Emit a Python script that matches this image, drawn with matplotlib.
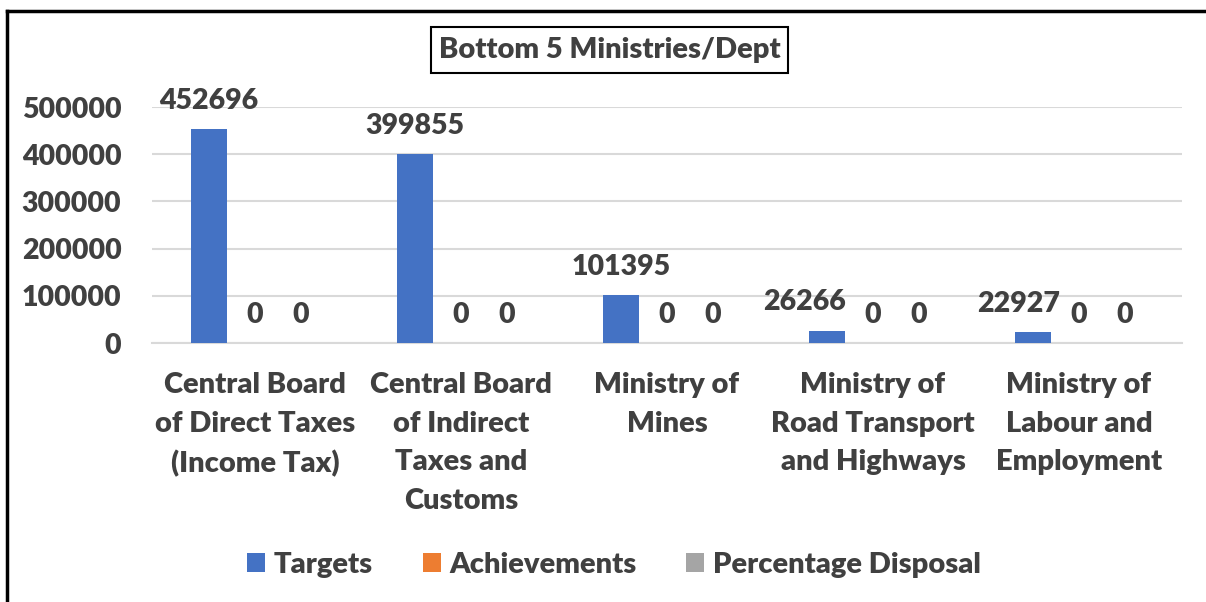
import matplotlib
matplotlib.use("Agg")
import matplotlib.pyplot as plt
from matplotlib.lines import Line2D
from matplotlib.patches import Rectangle
import numpy as np

categories = [
    "Central Board\nof Direct Taxes\n(Income Tax)",
    "Central Board\nof Indirect\nTaxes and\nCustoms",
    "Ministry of\nMines",
    "Ministry of\nRoad Transport\nand Highways",
    "Ministry of\nLabour and\nEmployment",
]
targets = [452696, 399855, 101395, 26266, 22927]
achievements = [0, 0, 0, 0, 0]
percentage_disposal = [0, 0, 0, 0, 0]
series_names = ["Targets", "Achievements", "Percentage Disposal"]
series_colors = ["#4472C4", "#ED7D31", "#A5A5A5"]
yticks = [0, 100000, 200000, 300000, 400000, 500000]
title = "Bottom 5 Ministries/Dept"

# horizontal nudges (pixels) of the Targets data labels, as in the reference
target_label_nudge_px = [0, 0, 0, -22, -14]

plt.rcParams['font.family'] = ['Lato', 'DejaVu Sans']
WT = "heavy"
TXT = "#404040"
FS = 21

W, H = 1206, 602
fig = plt.figure(figsize=(W / 100, H / 100), dpi=100)
ax = fig.add_axes([152 / W, 1 - 343 / H, (1182 - 152) / W, (343 - 107) / H])

x = np.arange(len(categories))
bw = 36 / 205.8
pitch = 46 / 205.8
all_series = [targets, achievements, percentage_disposal]
for i, (vals, name, col) in enumerate(zip(all_series, series_names, series_colors)):
    bars = ax.bar(x + (i - 1) * pitch, vals, width=bw, color=col, label=name, zorder=3)
    for j, (b, v) in enumerate(zip(bars, vals)):
        dx = target_label_nudge_px[j] * 0.72 if i == 0 else 0
        ax.annotate(f"{v}", (b.get_x() + b.get_width() / 2, b.get_height()),
                    xytext=(dx, 11), textcoords="offset points", ha="center", va="bottom",
                    fontsize=20.5, fontweight=WT, color=TXT, annotation_clip=False)

ax.set_xlim(-0.5, len(categories) - 0.5)
ax.set_ylim(0, 500000)
ax.set_yticks(yticks)
ax.set_yticklabels([str(t) for t in yticks])
ax.set_xticks(x)
ax.set_xticklabels(categories, linespacing=1.6)
ax.tick_params(axis="both", length=0, labelcolor=TXT)
ax.tick_params(axis="y", pad=22, labelsize=20.5)
ax.tick_params(axis="x", pad=21, labelsize=FS)
for lab in ax.get_xticklabels() + ax.get_yticklabels():
    lab.set_fontweight(WT)
ax.grid(axis="y", color="#D9D9D9", linewidth=1.5, zorder=0)
for s in ["top", "right", "left"]:
    ax.spines[s].set_visible(False)
ax.spines["bottom"].set_color("#D9D9D9")
ax.spines["bottom"].set_linewidth(1.5)

fig.add_artist(Rectangle((431 / W, 1 - 73 / H), (788 - 431) / W, 46 / H, transform=fig.transFigure,
                         facecolor="white", edgecolor="black", linewidth=1.5))
fig.text(609.5 / W, 1 - 50 / H, title, ha="center", va="center", fontsize=FS,
         fontweight=WT, color=TXT)

leg = fig.legend(loc="center", bbox_to_anchor=(614 / W, 1 - 565 / H), ncol=3, frameon=False,
                 prop={"size": FS, "weight": WT}, handlelength=0.62, handleheight=0.62,
                 handletextpad=0.3, columnspacing=1.7)
for t in leg.get_texts():
    t.set_color(TXT)

fig.add_artist(Line2D([7 / W, 7 / W], [0, 1 - 11 / H], color="black", linewidth=2.5))
fig.add_artist(Line2D([7 / W, 1], [1 - 11 / H, 1 - 11 / H], color="black", linewidth=2.5))

fig.savefig("out.png", dpi=100)
